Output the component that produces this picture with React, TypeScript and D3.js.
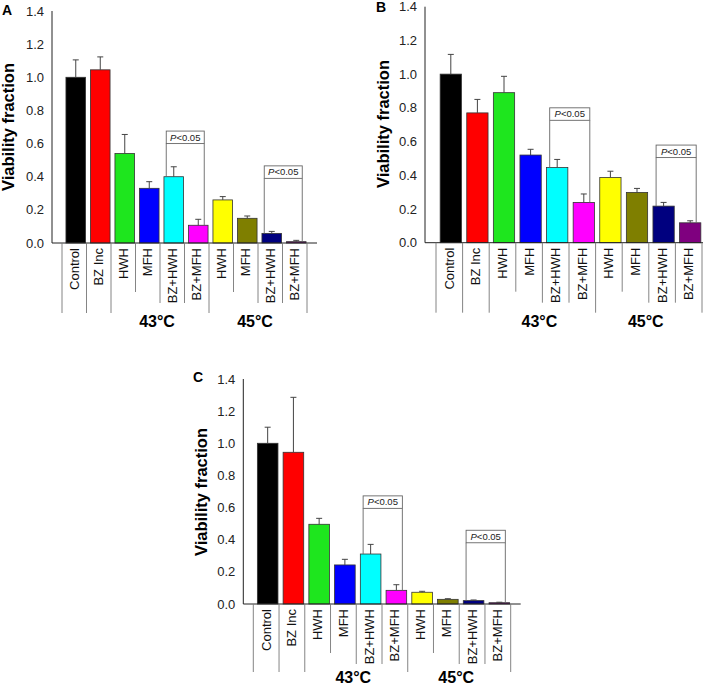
import React from "react";
import * as d3 from "d3";

const categories = ["Control", "BZ Inc", "HWH", "MFH", "BZ+HWH", "BZ+MFH", "HWH", "MFH", "BZ+HWH", "BZ+MFH"];
const barColors = ["#000000", "#ff0000", "#1ee61e", "#0000ff", "#00ffff", "#ff00ff", "#ffff00", "#7f7f00", "#00007f", "#7f007f"];
const groups = [
  { label: "43°C", from: 2, to: 5 },
  { label: "45°C", from: 6, to: 9 },
];
const yTicks = [0, 0.2, 0.4, 0.6, 0.8, 1.0, 1.2, 1.4];

const meansA = [1.0, 1.045, 0.54, 0.33, 0.40, 0.107, 0.26, 0.149, 0.058, 0.008];
const errsA = [0.105, 0.078, 0.115, 0.04, 0.06, 0.036, 0.02, 0.014, 0.012, 0.008];
const bracketsA = [
  { from: 4, to: 5, level: 0.6 },
  { from: 8, to: 9, level: 0.39 },
];

const meansB = [1.0, 0.77, 0.89, 0.52, 0.446, 0.239, 0.387, 0.298, 0.217, 0.118];
const errsB = [0.117, 0.08, 0.097, 0.034, 0.048, 0.05, 0.037, 0.024, 0.022, 0.012];
const bracketsB = [
  { from: 4, to: 5, level: 0.726 },
  { from: 8, to: 9, level: 0.505 },
];

const meansC = [1.0, 0.944, 0.496, 0.243, 0.311, 0.085, 0.073, 0.029, 0.021, 0.008];
const errsC = [0.10, 0.342, 0.037, 0.035, 0.06, 0.035, 0.006, 0.004, 0.004, 0.003];
const bracketsC = [
  { from: 4, to: 5, level: 0.595 },
  { from: 8, to: 9, level: 0.381 },
];

const layouts = [
  { id: "A", means: meansA, errs: errsA, brackets: bracketsA, axisX: 52, x0: 62, x1: 307, axisEnd: 317, yZero: 243, yTop: 11, letter: [2, 15], ylab: [8, 127], groupOffset: 84, groupLine: 70 },
  { id: "B", means: meansB, errs: errsB, brackets: bracketsB, axisX: 425, x0: 436, x1: 702, axisEnd: 703, yZero: 242.7, yTop: 6.7, letter: [376, 12], ylab: [383, 124], groupOffset: 84, groupLine: 70 },
  { id: "C", means: meansC, errs: errsC, brackets: bracketsC, axisX: 243.3, x0: 253.3, x1: 510.7, axisEnd: 520.7, yZero: 604, yTop: 379, letter: [193, 382], ylab: [201, 492], groupOffset: 78.5, groupLine: 68 },
];

const FONT = "'Liberation Sans', Arial, Helvetica, sans-serif";

function Panel({ p }: { p: any }) {
  const idx = categories.map((_, i) => i);
  const x = d3.scaleBand<number>().domain(idx).range([p.x0, p.x1]).paddingInner(0).paddingOuter(0);
  const slot = x.bandwidth();
  const barW = slot * 0.8;
  const shift = 1.5;
  const cx = (i: number) => (x(i) as number) + slot / 2;
  const y = d3.scaleLinear().domain([0, 1.4]).range([p.yZero, p.yTop]);
  const fmt = d3.format(".1f");

  const groupBounds = new Set([0, 1, 2, 6, 10]);
  const isLong = (i: number) => i >= 0 && i < categories.length && categories[i].includes("+");

  return (
    <g>
      <text x={p.letter[0]} y={p.letter[1]} fontFamily={FONT} fontWeight="bold" fontSize={14} fill="#000">{p.id}</text>
      <text
        transform={`translate(${p.ylab[0]},${p.ylab[1]}) rotate(-90)`}
        textAnchor="middle"
        dominantBaseline="central"
        fontFamily={FONT}
        fontWeight="bold"
        fontSize={16.5}
        fill="#000"
      >
        Viability fraction
      </text>
      {yTicks.map((t) => (
        <text key={t} x={p.axisX - 8} y={y(t)} dy="0.35em" textAnchor="end" fontFamily={FONT} fontSize={13} fill="#222">
          {fmt(t)}
        </text>
      ))}
      {p.means.map((m: number, i: number) => (
        <rect
          key={"b" + i}
          x={cx(i) + shift - barW / 2}
          y={y(m)}
          width={barW}
          height={p.yZero - y(m)}
          fill={barColors[i]}
          stroke="#333"
          strokeWidth={0.8}
        />
      ))}
      {p.means.map((m: number, i: number) => {
        const xc = cx(i) + shift;
        const top = y(m + p.errs[i]);
        return (
          <g key={"e" + i} stroke="#444" strokeWidth={1}>
            <line x1={xc} x2={xc} y1={y(m)} y2={top} />
            <line x1={xc - 3} x2={xc + 3} y1={top} y2={top} />
          </g>
        );
      })}
      {p.brackets.map((b: any, k: number) => {
        const left = cx(b.from) + shift - 7.5;
        const right = cx(b.to) + shift + 6;
        const bottom = y(b.level);
        const top = bottom - 12.5;
        return (
          <g key={"br" + k}>
            <line x1={left} x2={left} y1={bottom} y2={y(p.means[b.from])} stroke="#666" strokeWidth={0.9} />
            <line x1={right} x2={right} y1={bottom} y2={y(p.means[b.to])} stroke="#666" strokeWidth={0.9} />
            <rect x={left} y={top} width={right - left} height={bottom - top} fill="#fff" stroke="#666" strokeWidth={0.9} />
            <text x={(left + right) / 2} y={(top + bottom) / 2} dy="0.35em" textAnchor="middle" fontFamily={FONT} fontSize={9.5} fill="#222">
              <tspan fontStyle="italic">P</tspan>&lt;0.05
            </text>
          </g>
        );
      })}
      <line x1={p.axisX} x2={p.axisX} y1={p.yTop} y2={p.yZero} stroke="#222" strokeWidth={1} />
      <line x1={p.axisX} x2={p.axisEnd} y1={p.yZero} y2={p.yZero} stroke="#222" strokeWidth={1} />
      {d3.range(0, categories.length + 1).map((i) => {
        const xb = p.x0 + i * slot;
        let len: number;
        if (groupBounds.has(i)) len = p.groupLine;
        else len = isLong(i - 1) || isLong(i) ? 60 : 49;
        return <line key={"d" + i} x1={xb} x2={xb} y1={p.yZero} y2={p.yZero + len} stroke="#777" strokeWidth={0.9} />;
      })}
      {categories.map((c, i) => (
        <text
          key={"c" + i}
          transform={`translate(${cx(i)},${p.yZero + 5}) rotate(-90)`}
          textAnchor="end"
          dy="0.35em"
          fontFamily={FONT}
          fontSize={13}
          fill="#111"
        >
          {c}
        </text>
      ))}
      {groups.map((g) => (
        <text
          key={g.label}
          x={(p.x0 + g.from * slot + p.x0 + (g.to + 1) * slot) / 2 - 3}
          y={p.yZero + p.groupOffset}
          textAnchor="middle"
          fontFamily={FONT}
          fontWeight="bold"
          fontSize={16}
          fill="#000"
        >
          {g.label}
        </text>
      ))}
    </g>
  );
}

export default function App() {
  return (
    <svg
      width={715}
      height={685}
      style={{ position: "absolute", left: 0, top: 0, background: "#fff" }}
    >
      <rect width={715} height={685} fill="#fff" />
      {layouts.map((p) => (
        <Panel key={p.id} p={p} />
      ))}
    </svg>
  );
}
